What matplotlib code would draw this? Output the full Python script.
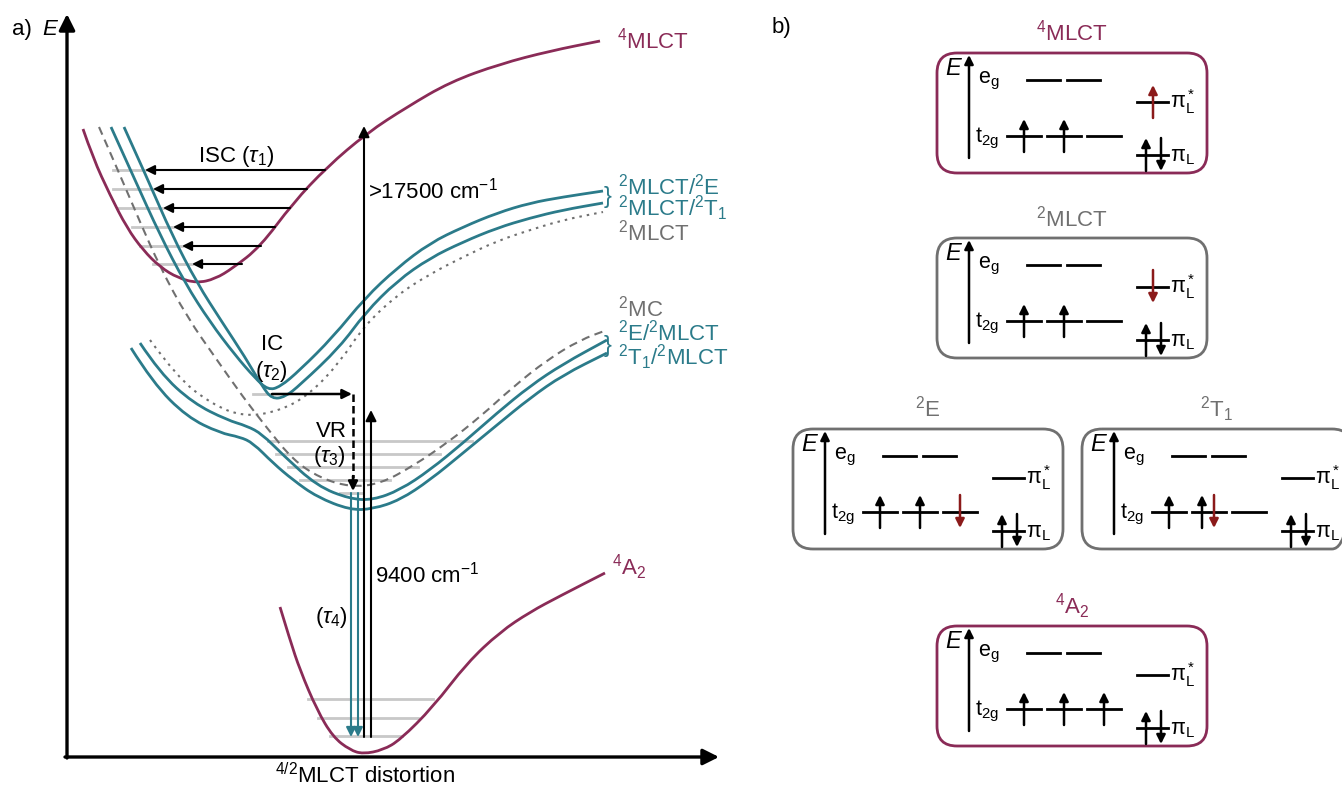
import matplotlib
matplotlib.use('Agg')
import matplotlib.pyplot as plt
import numpy as np
from matplotlib.path import Path
from matplotlib.patches import PathPatch, FancyBboxPatch

plt.rcParams['font.family'] = ['Liberation Sans', 'DejaVu Sans']
plt.rcParams['mathtext.fontset'] = 'custom'
plt.rcParams['mathtext.rm'] = 'Liberation Sans'
plt.rcParams['mathtext.it'] = 'Liberation Sans:italic'
plt.rcParams['mathtext.bf'] = 'Liberation Sans:bold'

MAROON = '#8a2b57'
TEAL = '#2b7b8a'
GRAY = '#707070'
LEVEL = '#c8c8c8'
RED = '#8b1a1a'

# ---- panel a: potential curves (picture coordinates, y down) ----
mlct4 = [(83, 129), (93, 158), (110, 195), (127, 228), (143, 250), (160, 267), (178, 278),
         (197, 283), (215, 279), (233, 268), (260, 247), (293, 203), (327, 167), (367, 133),
         (407, 107), (450, 82), (500, 64), (550, 51), (600, 41)]
mlct2_e = [(111, 127), (135, 180), (160, 235), (185, 283), (210, 322), (235, 355), (255, 378),
           (268, 390), (280, 387), (300, 370), (333, 337), (365, 298), (397, 268), (430, 243),
           (463, 227), (497, 213), (530, 203), (563, 197), (603, 191)]
mlct2_t1 = [(124, 127), (148, 180), (172, 235), (197, 283), (222, 322), (245, 357), (262, 386),
            (272, 399), (285, 397), (300, 385), (340, 347), (365, 313), (397, 281), (430, 258),
            (463, 242), (497, 228), (530, 218), (563, 210), (603, 203)]
mlct2 = [(150, 340), (177, 377), (210, 403), (243, 417), (280, 411), (310, 394), (340, 362),
         (364, 326), (397, 295), (430, 274), (463, 257), (497, 241), (530, 230), (563, 220),
         (603, 212)]
mc2 = [(99, 127), (120, 175), (140, 222), (160, 267), (187, 317), (217, 360), (243, 397),
       (267, 428), (293, 460), (320, 478), (350, 487), (380, 484), (413, 466), (447, 443),
       (480, 417), (513, 387), (547, 360), (580, 340), (607, 330)]
e2_mlct = [(140, 343), (160, 373), (193, 403), (227, 420), (247, 426), (262, 434), (283, 455),
           (317, 486), (350, 499), (373, 500), (400, 490), (430, 470), (463, 443), (497, 413),
           (530, 386), (563, 364), (607, 340)]
t1_mlct = [(131, 348), (153, 383), (187, 417), (220, 433), (240, 437), (253, 443), (273, 463),
           (293, 480), (317, 497), (350, 510), (373, 509), (400, 500), (430, 480), (463, 453),
           (497, 425), (530, 398), (563, 375), (607, 353)]
a2_4 = [(280, 607), (290, 640), (300, 670), (317, 710), (333, 737), (350, 750), (363, 754),
        (383, 750), (400, 740), (433, 707), (467, 663), (500, 632), (530, 612), (560, 596),
        (605, 573)]

# ISC arrows and vibrational levels
isc_y = [170, 189, 208, 227, 246, 264]
isc_start = [325, 307, 290, 275, 261, 242]
isc_tip = [145, 153, 163, 173, 182, 192]
isc_gray_left = [113, 113, 117, 132, 140, 153]

mc_lev_y = [441, 454, 467, 480, 493]
mc_lev_x0 = [268, 276, 288, 300, 340]
mc_lev_x1 = [472, 440, 418, 390, 362]

gs_lev_y = [699, 718, 736]
gs_lev_x0 = [308, 318, 330]
gs_lev_x1 = [433, 418, 402]

# ---- panel b: configurations ----
box_names = [r'$^4$MLCT', r'$^2$MLCT', r'$^2$E', r'$^2$T$_1$', r'$^4$A$_2$']
box_x0 = [937, 937, 793, 1082, 937]
box_y0 = [53, 238, 429, 429, 626]
box_edge = [MAROON, GRAY, GRAY, GRAY, MAROON]
box_title_col = [MAROON, GRAY, GRAY, GRAY, MAROON]
t2g_occ = [['u', 'u', ''], ['u', 'u', ''], ['u', 'u', 'D'], ['u', 'uD', ''], ['u', 'u', 'u']]
pistar_occ = ['U', 'D', '', '', '']
pil_occ = ['ud', 'ud', 'ud', 'ud', 'ud']


def smooth(ax, pts, **kw):
    pts = np.asarray(pts, float)
    verts = [pts[0]]
    codes = [Path.MOVETO]
    for i in range(1, len(pts) - 1):
        verts += [pts[i], (pts[i] + pts[i + 1]) / 2]
        codes += [Path.CURVE3, Path.CURVE3]
    verts.append(pts[-1])
    codes.append(Path.LINETO)
    ax.add_patch(PathPatch(Path(verts, codes), fill=False, **kw))


def arrow(ax, x0, y0, x1, y1, color='k', lw=1.5, ms=16, ls='-', z=4):
    ax.annotate('', xy=(x1, y1), xytext=(x0, y0),
                arrowprops=dict(arrowstyle='-|>', color=color, lw=lw, mutation_scale=ms,
                                shrinkA=0, shrinkB=0, linestyle=ls), zorder=z)


fig = plt.figure(figsize=(13.42, 7.87), dpi=100)
ax = fig.add_axes([0, 0, 1, 1])
ax.set_xlim(0, 1342)
ax.set_ylim(787, 0)
ax.axis('off')

FS = 16

# axes of panel a
arrow(ax, 67, 758, 67, 14, lw=2.4, ms=24)
arrow(ax, 65, 757, 719, 757, lw=2.4, ms=24)
ax.text(12, 35, 'a)', fontsize=FS)
ax.text(42, 35, 'E', fontsize=FS, fontstyle='italic')
ax.text(365, 783, r'$^{4/2}$MLCT distortion', fontsize=FS, ha='center')

# vibrational levels
for y, x0, x1 in zip(isc_y, isc_gray_left, isc_tip):
    ax.plot([x0, x1], [y, y], color=LEVEL, lw=2, zorder=1)
for y, x0, x1 in zip(mc_lev_y, mc_lev_x0, mc_lev_x1):
    ax.plot([x0, x1], [y, y], color=LEVEL, lw=2, zorder=1)
for y, x0, x1 in zip(gs_lev_y, gs_lev_x0, gs_lev_x1):
    ax.plot([x0, x1], [y, y], color=LEVEL, lw=2, zorder=1)
ax.plot([253, 272], [394, 394], color=LEVEL, lw=2, zorder=1)

# curves
smooth(ax, mlct4, color=MAROON, lw=2, zorder=3)
smooth(ax, a2_4, color=MAROON, lw=2, zorder=3)
smooth(ax, mc2, color=GRAY, lw=1.5, linestyle=(0, (4, 2.6)), zorder=2)
smooth(ax, mlct2, color=GRAY, lw=1.5, linestyle=(0, (1.2, 2.4)), zorder=2)
for c in (mlct2_e, mlct2_t1, e2_mlct, t1_mlct):
    smooth(ax, c, color=TEAL, lw=2, zorder=3)

# ISC arrows
for y, x0, x1 in zip(isc_y, isc_start, isc_tip):
    arrow(ax, x0, y, x1, y, lw=1.5, ms=14)
ax.text(198, 162, r'ISC ($\tau_1$)', fontsize=FS)

# IC / VR
arrow(ax, 272, 394, 352, 394, lw=1.8, ms=14)
ax.plot([353, 353], [394, 478], color='k', lw=1.8, ls=(0, (3, 1.6)), zorder=4)
arrow(ax, 353, 476, 353, 491, lw=1.8, ms=14)
ax.text(272, 350, 'IC', fontsize=FS, ha='center')
ax.text(271, 377, r'($\tau_2$)', fontsize=FS, ha='center')
ax.text(331, 437, 'VR', fontsize=FS, ha='center')
ax.text(329, 462, r'($\tau_3$)', fontsize=FS, ha='center')

# absorption / emission arrows
arrow(ax, 364, 737, 364, 126, lw=1.5, ms=16)
arrow(ax, 371, 737, 371, 410, lw=1.5, ms=16)
arrow(ax, 351, 493, 351, 737, color=TEAL, lw=1.5, ms=14)
arrow(ax, 358, 493, 358, 737, color=TEAL, lw=1.5, ms=14)
ax.text(368, 198, r'>17500 cm$^{-1}$', fontsize=FS)
ax.text(375, 582, r'9400 cm$^{-1}$', fontsize=FS)
ax.text(315, 623, r'($\tau_4$)', fontsize=FS)

# curve labels
ax.text(617, 49, r'$^4$MLCT', fontsize=FS, color=MAROON)
ax.text(618, 194, r'$^2$MLCT/$^2$E', fontsize=FS, color=TEAL)
ax.text(618, 216, r'$^2$MLCT/$^2$T$_1$', fontsize=FS, color=TEAL)
ax.text(618, 240, r'$^2$MLCT', fontsize=FS, color=GRAY)
ax.text(618, 317, r'$^2$MC', fontsize=FS, color=GRAY)
ax.text(618, 341, r'$^2$E/$^2$MLCT', fontsize=FS, color=TEAL)
ax.text(618, 365, r'$^2$T$_1$/$^2$MLCT', fontsize=FS, color=TEAL)
ax.text(612, 575, r'$^4$A$_2$', fontsize=FS, color=MAROON)
ax.text(604, 197, '}', fontsize=17, color=TEAL, va='center')
ax.text(604, 346, '}', fontsize=17, color=TEAL, va='center')

# ---- panel b ----
ax.text(772, 33, 'b)', fontsize=FS)
BW, BH = 270, 120
FB = 15.5


def electron(x, y, kind):
    col = RED if kind.isupper() else 'k'
    if kind.lower() == 'u':
        arrow(ax, x, y + 16, x, y - 17, color=col, lw=1.8, ms=13, z=6)
    else:
        arrow(ax, x, y - 17, x, y + 16, color=col, lw=1.8, ms=13, z=6)


for name, x0, y0, ec, tc, t2g, pst, pil in zip(box_names, box_x0, box_y0, box_edge,
                                               box_title_col, t2g_occ, pistar_occ, pil_occ):
    ax.add_patch(FancyBboxPatch((x0, y0), BW, BH, boxstyle='round,pad=0,rounding_size=20',
                                fill=False, ec=ec, lw=2, zorder=5))
    ax.text(x0 + 135, y0 - 12, name, fontsize=FS, color=tc, ha='center')
    ax.text(x0 + 8, y0 + 22, 'E', fontsize=17, fontstyle='italic')
    arrow(ax, x0 + 32, y0 + 105, x0 + 32, y0 + 2, lw=1.8, ms=13, z=6)
    ax.text(x0 + 41, y0 + 30, r'e$_\mathrm{g}$', fontsize=FB)
    ax.text(x0 + 38, y0 + 89, r't$_\mathrm{2g}$', fontsize=FB)
    for xs in (90, 130):
        ax.plot([x0 + xs, x0 + xs + 33], [y0 + 27, y0 + 27], color='k', lw=2, zorder=6)
    for k, xs in enumerate((70, 110, 150)):
        yl = y0 + 83
        ax.plot([x0 + xs, x0 + xs + 34], [yl, yl], color='k', lw=2, zorder=6)
        occ = t2g[k]
        cx = x0 + xs + 17
        if len(occ) == 1:
            electron(cx, yl, occ)
        elif len(occ) == 2:
            electron(cx - 7, yl, occ[0])
            electron(cx + 5, yl, occ[1])
    yp = y0 + 49
    ax.plot([x0 + 200, x0 + 231], [yp, yp], color='k', lw=2, zorder=6)
    if pst:
        electron(x0 + 216, yp, pst)
    ax.text(x0 + 233, yp + 6, r'π$^*_\mathrm{L}$', fontsize=FB)
    yl = y0 + 102
    ax.plot([x0 + 200, x0 + 231], [yl, yl], color='k', lw=2, zorder=6)
    electron(x0 + 209, yl, pil[0])
    electron(x0 + 224, yl, pil[1])
    ax.text(x0 + 233, yl + 6, r'π$_\mathrm{L}$', fontsize=FB)

fig.savefig('out.png', dpi=100)
